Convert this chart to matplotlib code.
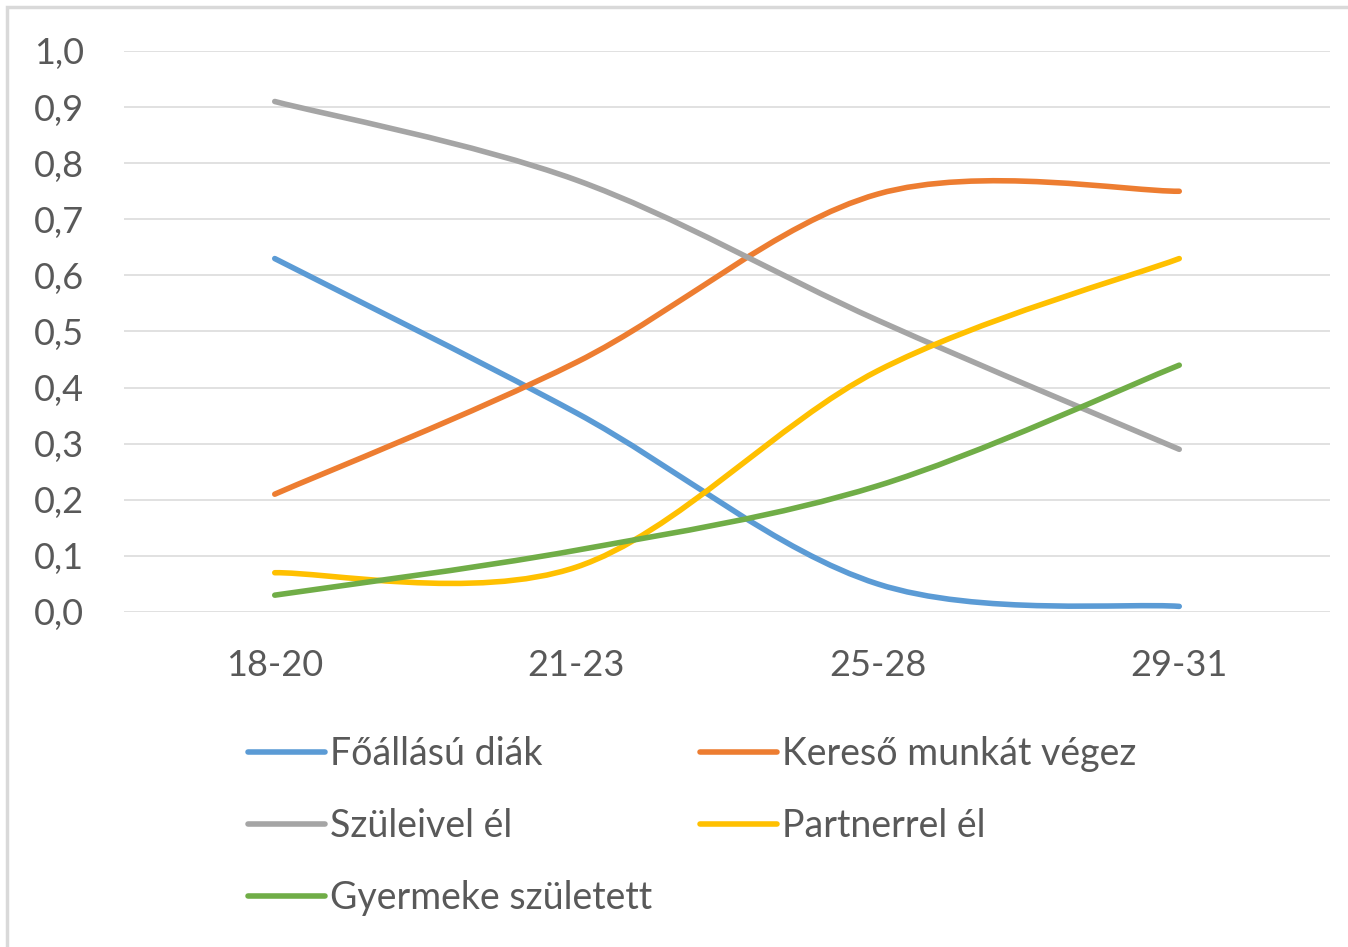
import numpy as np
import matplotlib
matplotlib.use("Agg")
import matplotlib.pyplot as plt
from matplotlib.path import Path
from matplotlib.patches import PathPatch, Rectangle
from matplotlib.lines import Line2D

plt.rcParams["font.family"] = ["Lato", "DejaVu Sans"]

categories = ["18-20", "21-23", "25-28", "29-31"]
foallasu_diak = [0.63, 0.355, 0.05, 0.01]
kereso_munka = [0.21, 0.445, 0.745, 0.75]
szuleivel_el = [0.91, 0.77, 0.52, 0.29]
partnerrel_el = [0.07, 0.08, 0.43, 0.63]
gyermeke_szul = [0.03, 0.11, 0.225, 0.44]

series = [
    ("Főállású diák", foallasu_diak, "#5B9BD5"),
    ("Kereső munkát végez", kereso_munka, "#ED7D31"),
    ("Szüleivel él", szuleivel_el, "#A5A5A5"),
    ("Partnerrel él", partnerrel_el, "#FFC000"),
    ("Gyermeke született", gyermeke_szul, "#70AD47"),
]

text_color = "#595959"
W, H = 1348, 947


def smooth_path(xs, ys):
    # Excel-like smoothed line: cubic bezier with catmull-rom control points
    pts = np.column_stack([xs, ys]).astype(float)
    n = len(pts)
    verts = [pts[0]]
    codes = [Path.MOVETO]
    for i in range(n - 1):
        p0 = pts[max(i - 1, 0)]
        p1 = pts[i]
        p2 = pts[i + 1]
        p3 = pts[min(i + 2, n - 1)]
        c1 = p1 + (p2 - p0) / 6.0
        c2 = p2 - (p3 - p1) / 6.0
        verts += [c1, c2, p2]
        codes += [Path.CURVE4] * 3
    return Path(verts, codes)


fig = plt.figure(figsize=(W / 100, H / 100), dpi=100)
ax = fig.add_axes([124 / W, 1 - 612 / H, 1206 / W, 561 / H])

x = np.arange(len(categories))
handles = []
for label, vals, color in series:
    patch = PathPatch(smooth_path(x, vals), facecolor="none", edgecolor=color,
                      linewidth=4.0, capstyle="round", joinstyle="round", zorder=3)
    ax.add_patch(patch)
    handles.append(Line2D([], [], color=color, linewidth=4.0,
                          solid_capstyle="round", label=label))

ax.set_xlim(-0.5, len(categories) - 0.5)
ax.set_ylim(0, 1.0)
ax.set_xticks(x)
ax.set_xticklabels(categories)
yt = np.arange(0, 1.01, 0.1)
ax.set_yticks(yt)
ax.set_yticklabels([f"{v:.1f}".replace(".", ",") for v in yt])
ax.tick_params(axis="both", length=0, labelsize=26, colors=text_color)
ax.tick_params(axis="y", pad=29)
ax.tick_params(axis="x", pad=27)
ax.grid(axis="y", color="#D9D9D9", linewidth=1.1)
ax.set_axisbelow(True)
for s in ax.spines.values():
    s.set_visible(False)

leg_kw = dict(loc="upper left", frameon=False, fontsize=27, borderpad=0,
              borderaxespad=0, handlelength=2.05, handletextpad=0.13,
              labelspacing=0.96, labelcolor=text_color)
fig.legend(handles=[handles[0], handles[2], handles[4]],
           bbox_to_anchor=(248 / W, 1 - 736 / H), **leg_kw)
fig.legend(handles=[handles[1], handles[3]],
           bbox_to_anchor=(700 / W, 1 - 736 / H), **leg_kw)

fig.patches.append(Rectangle((6.5 / W, -0.05), 1.1, 1 - 7.5 / H + 0.05,
                             transform=fig.transFigure, fill=False,
                             edgecolor="#D9D9D9", linewidth=2.5))

fig.savefig("out.png", dpi=100)
